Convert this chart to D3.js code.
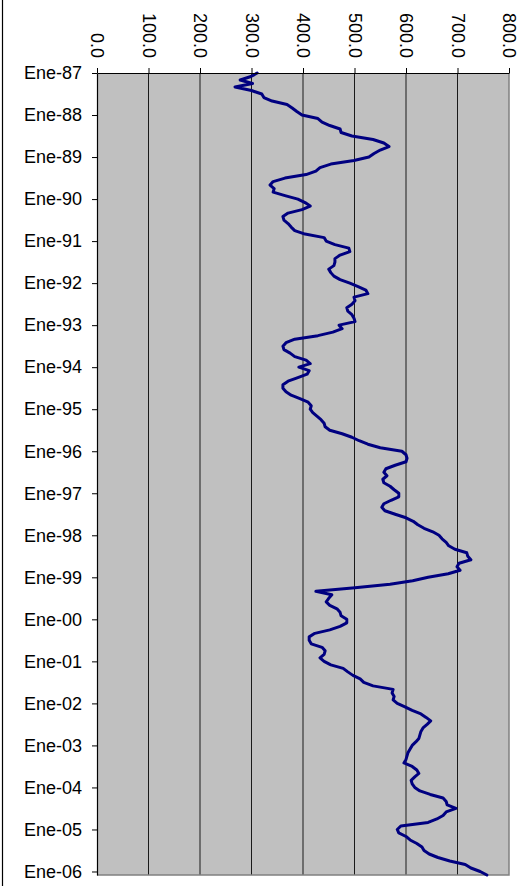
<!DOCTYPE html>
<html>
<head>
<meta charset="utf-8">
<script src="https://cdn.jsdelivr.net/npm/d3@7"></script>
<style>
  html, body { margin: 0; padding: 0; background: #ffffff; }
  svg { display: block; }
  text { font-family: "Liberation Sans", Arial, sans-serif; }
</style>
</head>
<body>
<svg id="chart" width="527" height="886"></svg>
<script>
// Monthly series, Ene-87 .. Feb-06
const startYear = 1987;
const monthNames = ["Ene","Feb","Mar","Abr","May","Jun","Jul","Ago","Sep","Oct","Nov","Dic"];

const values = [
  311, 299, 278, 302, 268, 300, 320, 324, 340, 369, 379, 388,   // 1987
  398, 429, 437, 452, 472, 474, 495, 536, 557, 567, 550, 538,   // 1988
  528, 499, 454, 433, 425, 406, 365, 342, 336, 344, 342, 365,   // 1989
  390, 404, 414, 398, 371, 361, 363, 371, 377, 384, 404, 441,   // 1990
  445, 462, 489, 491, 472, 462, 462, 460, 450, 454, 460, 472,   // 1991
  491, 507, 522, 526, 499, 501, 495, 485, 487, 495, 499, 501,   // 1992
  470, 476, 458, 429, 384, 367, 361, 363, 375, 384, 406, 414,   // 1993
  392, 412, 408, 390, 371, 361, 361, 367, 377, 394, 410, 416,   // 1994
  414, 419, 427, 435, 441, 443, 452, 476, 495, 509, 526, 550,   // 1995
  592, 600, 602, 600, 579, 561, 557, 563, 555, 557, 569, 577,   // 1996
  586, 586, 571, 557, 553, 559, 579, 600, 614, 623, 635, 652,   // 1997
  664, 670, 678, 683, 695, 718, 720, 726, 703, 699, 705, 682,   // 1998
  643, 613, 569, 501, 425, 456, 450, 445, 452, 466, 472, 474,   // 1999
  485, 485, 472, 452, 423, 412, 412, 416, 437, 443, 441, 433,   // 2000
  441, 454, 478, 487, 497, 511, 518, 536, 575, 573, 577, 575,   // 2001
  583, 598, 612, 629, 639, 648, 641, 633, 629, 627, 625, 619,   // 2002
  612, 608, 604, 602, 600, 596, 612, 621, 625, 617, 610, 612,   // 2003
  617, 627, 647, 672, 678, 680, 697, 678, 672, 660, 643, 590,   // 2004
  583, 586, 600, 608, 621, 631, 635, 645, 662, 685, 715, 726,   // 2005
  744, 757                                                      // 2006
];

const valueTicks = [0, 100, 200, 300, 400, 500, 600, 700, 800];
const yearTickLabels = ["Ene-87","Ene-88","Ene-89","Ene-90","Ene-91","Ene-92","Ene-93",
  "Ene-94","Ene-95","Ene-96","Ene-97","Ene-98","Ene-99","Ene-00","Ene-01","Ene-02",
  "Ene-03","Ene-04","Ene-05","Ene-06"];

// Month category labels built from the start year
const months = values.map((v, i) => {
  const yr = startYear + Math.floor(i / 12);
  return monthNames[i % 12] + "-" + String(yr % 100).padStart(2, "0");
});
const data = values.map((v, i) => ({ cat: months[i], value: v }));

const svg = d3.select("#chart");
const plot = { left: 97, right: 509, top: 73, bottom: 875 };

const x = d3.scaleLinear().domain([0, 800]).range([plot.left, plot.right]);
const y = d3.scalePoint().domain(months).range([plot.top, plot.bottom]);

// Outer chart frame edge on the left
svg.append("line")
  .attr("x1", 2.5).attr("x2", 2.5).attr("y1", 0).attr("y2", 886)
  .attr("stroke", "#000").attr("stroke-width", 1.2);

// Plot background
svg.append("rect")
  .attr("x", plot.left).attr("y", plot.top)
  .attr("width", plot.right - plot.left).attr("height", plot.bottom - plot.top)
  .attr("fill", "#c0c0c0");

// Vertical gridlines
svg.append("g")
  .selectAll("line")
  .data(valueTicks.filter(d => d > 0 && d < 800))
  .join("line")
  .attr("x1", d => x(d)).attr("x2", d => x(d))
  .attr("y1", plot.top).attr("y2", plot.bottom)
  .attr("stroke", "#1a1a1a").attr("stroke-width", 1);

// Plot border (right, bottom)
svg.append("path")
  .attr("d", `M${plot.right},${plot.top}V${plot.bottom}H${plot.left}`)
  .attr("fill", "none").attr("stroke", "#808080").attr("stroke-width", 1.5);

// Series line
svg.append("path")
  .datum(data)
  .attr("fill", "none")
  .attr("stroke", "#000080")
  .attr("stroke-width", 3)
  .attr("stroke-linejoin", "round")
  .attr("stroke-linecap", "round")
  .attr("d", d3.line().x(d => x(d.value)).y(d => y(d.cat)));

// Value axis along the top, labels turned to read downward
const topAxis = svg.append("g")
  .attr("transform", `translate(0,${plot.top})`)
  .call(d3.axisTop(x).tickValues(valueTicks).tickFormat(d3.format(".1f")).tickSize(5).tickSizeOuter(0));
topAxis.select(".domain").attr("stroke", "#000").attr("stroke-width", 1.2);
topAxis.selectAll(".tick line").attr("stroke", "#000");
topAxis.selectAll(".tick text")
  .attr("transform", "rotate(90)")
  .attr("x", -15).attr("y", 0).attr("dy", "0.35em")
  .attr("text-anchor", "end")
  .attr("fill", "#000")
  .style("font-size", "18px");

// Time axis on the left, one label per January
const leftAxis = svg.append("g")
  .attr("transform", `translate(${plot.left},0)`)
  .call(d3.axisLeft(y).tickValues(yearTickLabels).tickSize(5).tickPadding(10).tickSizeOuter(0));
leftAxis.select(".domain").attr("stroke", "#000").attr("stroke-width", 1.2);
leftAxis.selectAll(".tick line").attr("stroke", "#000");
leftAxis.selectAll(".tick text")
  .attr("fill", "#000")
  .style("font-size", "18px");
</script>
</body>
</html>
